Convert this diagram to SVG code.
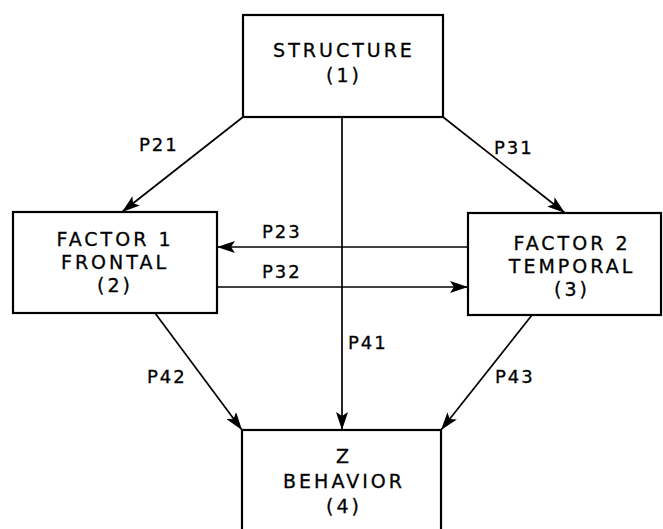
<svg xmlns="http://www.w3.org/2000/svg" width="663" height="529" viewBox="0 0 663 529">
<style>
.box{fill:#fff;stroke:#000;stroke-width:2.2}
.t{font-family:"DejaVu Sans","Liberation Sans",sans-serif;font-size:19px;letter-spacing:3px;text-anchor:middle;fill:#000;stroke:#000;stroke-width:0.3}
.lbl{font-family:"DejaVu Sans","Liberation Sans",sans-serif;font-size:18px;letter-spacing:2px;fill:#000;stroke:#000;stroke-width:0.3}
.c{stroke:#000;stroke-width:1.7;fill:none;marker-end:url(#ah)}
</style>
<defs>
<marker id="ah" markerUnits="userSpaceOnUse" markerWidth="18" markerHeight="12" refX="18" refY="6" orient="auto">
<path d="M0,0 L18,6 L0,12 L4,6 z" fill="#000"/>
</marker>
</defs>
<rect width="663" height="529" fill="#fff"/>
<g id="connectors">
<line class="c" x1="243" y1="117" x2="122" y2="212"/>
<line class="c" x1="443" y1="117" x2="565" y2="213"/>
<line class="c" x1="342" y1="117" x2="342" y2="430"/>
<line class="c" x1="155" y1="313" x2="242" y2="430"/>
<line class="c" x1="532" y1="315" x2="441" y2="430"/>
<line class="c" x1="468" y1="247" x2="217" y2="247"/>
<line class="c" x1="217" y1="287" x2="468" y2="287"/>
<text class="lbl" x="139" y="151">P21</text>
<text class="lbl" x="494" y="154">P31</text>
<text class="lbl" x="348" y="349">P41</text>
<text class="lbl" x="147" y="383">P42</text>
<text class="lbl" x="495" y="383">P43</text>
<text class="lbl" x="262" y="238">P23</text>
<text class="lbl" x="262" y="278">P32</text>
</g>
<g id="structure">
<rect class="box" x="243" y="15" width="200" height="102"/>
<text class="t" x="344" y="57">STRUCTURE</text>
<text class="t" x="344" y="82">(1)</text>
</g>
<g id="factor1">
<rect class="box" x="13" y="212" width="204" height="101"/>
<text class="t" x="115" y="246">FACTOR 1</text>
<text class="t" x="115" y="269">FRONTAL</text>
<text class="t" x="115" y="292">(2)</text>
</g>
<g id="factor2">
<rect class="box" x="468" y="213" width="193" height="102"/>
<text class="t" x="572" y="250">FACTOR 2</text>
<text class="t" x="572" y="273">TEMPORAL</text>
<text class="t" x="572" y="296">(3)</text>
</g>
<g id="behavior">
<rect class="box" x="242" y="430" width="199" height="110"/>
<text class="t" x="344" y="463">Z</text>
<text class="t" x="344" y="488">BEHAVIOR</text>
<text class="t" x="344" y="513">(4)</text>
</g>
</svg>
